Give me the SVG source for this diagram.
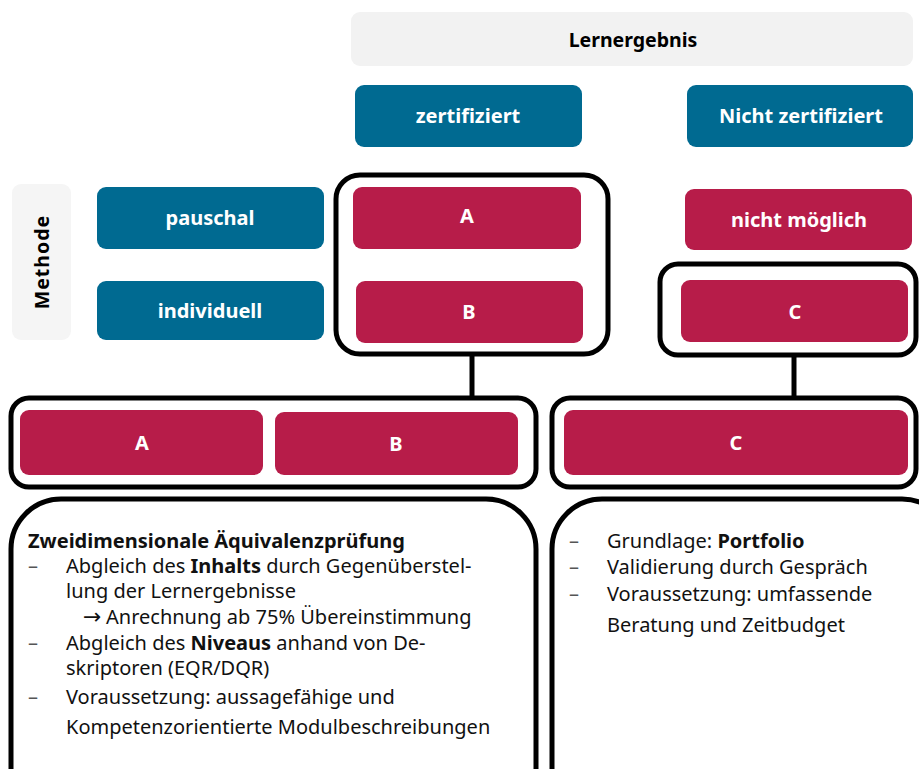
<svg xmlns="http://www.w3.org/2000/svg" width="919" height="769" viewBox="0 0 919 769">
<style>
.blue{fill:#006a91}
.red{fill:#b71c49}
.frame{fill:none;stroke:#000;stroke-width:5}
.lbl{font-family:"Noto Sans","Open Sans",sans-serif;font-weight:bold;font-size:20px;fill:#fff;text-anchor:middle}
.hdr{font-family:"Noto Sans","Open Sans",sans-serif;font-weight:bold;font-size:19.5px;fill:#000;text-anchor:middle}
.body{font-family:"Noto Sans","Open Sans",sans-serif;font-size:20px;fill:#111}
.dash{font-family:"Noto Sans","Open Sans",sans-serif;font-size:20px;fill:#555}
.arr{font-family:"DejaVu Sans",sans-serif;font-size:22px;fill:#111}
.conn{stroke:#000;stroke-width:5;fill:none}
</style>
<rect width="919" height="769" fill="#fff"/>
<g id="lernergebnis"><rect x="351" y="12" width="562" height="54" rx="9" fill="#f2f2f2"/><text class="hdr" x="633" y="47">Lernergebnis</text></g>
<g id="zertifiziert"><rect class="blue" x="355" y="85" width="227" height="62" rx="9"/><text class="lbl" x="468" y="123">zertifiziert</text></g>
<g id="nicht-zertifiziert"><rect class="blue" x="687" y="85" width="226" height="62" rx="9"/><text class="lbl" x="801" y="123">Nicht zertifiziert</text></g>
<g id="methode"><rect x="12" y="184" width="59" height="156" rx="9" fill="#f5f5f5"/><text class="hdr" letter-spacing="1" transform="translate(49,262) rotate(-90)">Methode</text></g>
<g id="pauschal"><rect class="blue" x="97" y="187" width="227" height="62" rx="9"/><text class="lbl" x="210" y="225">pauschal</text></g>
<g id="individuell"><rect class="blue" x="97" y="281" width="227" height="59" rx="9"/><text class="lbl" x="210" y="318">individuell</text></g>
<g id="group-ab"><rect class="frame" x="336" y="175" width="272" height="179" rx="24"/></g>
<g id="a-top"><rect class="red" x="353" y="187" width="228" height="62" rx="9"/><text class="lbl" x="467" y="223">A</text></g>
<g id="b-top"><rect class="red" x="356" y="281" width="227" height="62" rx="9"/><text class="lbl" x="469" y="319">B</text></g>
<g id="nicht-moeglich"><rect class="red" x="685" y="189" width="227" height="61" rx="9"/><text class="lbl" x="799" y="227">nicht möglich</text></g>
<g id="group-c"><rect class="frame" x="660" y="264" width="256" height="91" rx="18"/></g>
<g id="c-top"><rect class="red" x="681" y="280" width="227" height="62" rx="9"/><text class="lbl" x="795" y="319">C</text></g>
<g id="connectors"><line class="conn" x1="472" y1="355" x2="472" y2="397"/><line class="conn" x1="794" y1="356" x2="794" y2="397"/></g>
<g id="group-ab-bottom"><rect class="frame" x="11" y="398" width="525" height="89" rx="18"/></g>
<g id="a-bottom"><rect class="red" x="20" y="410" width="243" height="65" rx="9"/><text class="lbl" x="142" y="450">A</text></g>
<g id="b-bottom"><rect class="red" x="275" y="412" width="243" height="63" rx="9"/><text class="lbl" x="396" y="451">B</text></g>
<g id="group-c-bottom"><rect class="frame" x="552" y="398" width="364" height="89" rx="18"/></g>
<g id="c-bottom"><rect class="red" x="564" y="410" width="344" height="65" rx="9"/><text class="lbl" x="736" y="450">C</text></g>
<g id="text-left"><rect class="frame" x="11" y="499" width="525" height="320" rx="50"/>
<text class="body" x="28" y="548"><tspan font-weight="bold">Zweidimensionale Äquivalenzprüfung</tspan></text>
<text class="dash" x="28" y="573">–</text><text class="body" x="66" y="573">Abgleich des <tspan font-weight="bold">Inhalts</tspan> durch Gegenüberstel-</text>
<text class="body" x="66" y="598">lung der Lernergebnisse</text>
<text class="arr" x="83" y="624">→</text><text class="body" x="106" y="624">Anrechnung ab 75% Übereinstimmung</text>
<text class="dash" x="28" y="650">–</text><text class="body" x="66" y="650">Abgleich des <tspan font-weight="bold">Niveaus</tspan> anhand von De-</text>
<text class="body" x="66" y="675">skriptoren (EQR/DQR)</text>
<text class="dash" x="28" y="704">–</text><text class="body" x="66" y="704">Voraussetzung: aussagefähige und</text>
<text class="body" x="66" y="734">Kompetenzorientierte Modulbeschreibungen</text>
</g>
<g id="text-right"><rect class="frame" x="552" y="499" width="400" height="320" rx="50"/>
<text class="dash" x="569" y="548">–</text><text class="body" x="607" y="548">Grundlage: <tspan font-weight="bold">Portfolio</tspan></text>
<text class="dash" x="569" y="574">–</text><text class="body" x="607" y="574">Validierung durch Gespräch</text>
<text class="dash" x="569" y="601">–</text><text class="body" x="607" y="601">Voraussetzung: umfassende</text>
<text class="body" x="607" y="632">Beratung und Zeitbudget</text>
</g>
</svg>
